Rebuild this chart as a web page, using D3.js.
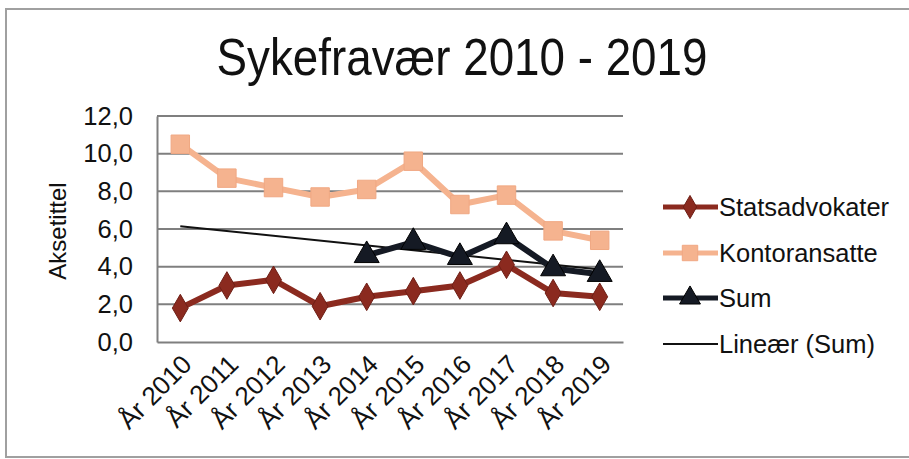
<!DOCTYPE html>
<html>
<head>
<meta charset="utf-8">
<script src="https://d3js.org/d3.v7.min.js"></script>
<style>
  body { margin: 0; background: #fff; }
  svg { display: block; font-family: "Liberation Sans", Arial, sans-serif; }
</style>
</head>
<body>
<div id="chart"></div>
<script>
// data
var years = ["År 2010","År 2011","År 2012","År 2013","År 2014","År 2015","År 2016","År 2017","År 2018","År 2019"];
var statsadvokater = [1.8, 3.0, 3.3, 1.9, 2.4, 2.7, 3.0, 4.1, 2.6, 2.4];
var kontoransatte = [10.5, 8.7, 8.2, 7.7, 8.1, 9.6, 7.3, 7.8, 5.9, 5.4];
var sum = [null, null, null, null, 4.6, 5.3, 4.5, 5.6, 3.9, 3.6];
var trendEnds = [6.15, 3.85];   // Lineær (Sum) at År 2010 and År 2019
var yTicks = [0, 2, 4, 6, 8, 10, 12];

var W = 909, H = 459;
var plotL = 157, plotR = 623, plotT = 116, plotB = 342;

var svg = d3.select("#chart").append("svg").attr("width", W).attr("height", H);

// outer frame
svg.append("rect").attr("x", 6).attr("y", 9).attr("width", 940).attr("height", 448)
  .attr("fill", "none").attr("stroke", "#a0a0a0").attr("stroke-width", 2);

svg.append("text").attr("transform", "translate(462,75) scale(0.88,1)").attr("text-anchor", "middle")
  .style("font-size", "52px").attr("fill", "#111").text("Sykefravær 2010 - 2019");

var x = d3.scaleBand().domain(years).range([plotL, plotR]);
var y = d3.scaleLinear().domain([0, 12]).range([plotB, plotT]);
var cx = function(i) { return x(years[i]) + x.bandwidth() / 2; };

// gridlines
svg.append("g").selectAll("line").data(yTicks.slice(1)).enter().append("line")
  .attr("x1", plotL).attr("x2", plotR)
  .attr("y1", function(d) { return y(d); }).attr("y2", function(d) { return y(d); })
  .attr("stroke", "#7f7f7f").attr("stroke-width", 2);

// y axis
var yAxis = svg.append("g").attr("transform", "translate(" + plotL + ",0)")
  .call(d3.axisLeft(y).tickValues(yTicks).tickSize(0).tickPadding(24)
    .tickFormat(function(d) { return d3.format(".1f")(d).replace(".", ","); }));
yAxis.select(".domain").attr("stroke", "#7f7f7f").attr("stroke-width", 2);
yAxis.selectAll("text").style("font-size", "25.5px").attr("fill", "#111");

// x axis
var xAxis = svg.append("g").attr("transform", "translate(0," + plotB + ")")
  .call(d3.axisBottom(x).tickSize(0).tickPadding(0));
xAxis.select(".domain").attr("stroke", "#7f7f7f").attr("stroke-width", 2);
xAxis.selectAll("text")
  .attr("text-anchor", "end").attr("dy", 0).attr("y", 0)
  .attr("transform", "translate(13,24) rotate(-45)")
  .style("font-size", "26px").attr("fill", "#111");

svg.append("text").attr("transform", "translate(66,231) rotate(-90)")
  .attr("text-anchor", "middle").style("font-size", "24px").attr("fill", "#111").text("Aksetittel");

// trend line
svg.append("line").attr("x1", cx(0)).attr("x2", cx(9))
  .attr("y1", y(trendEnds[0])).attr("y2", y(trendEnds[1]))
  .attr("stroke", "#111").attr("stroke-width", 2);

var series = [
  { name: "Statsadvokater", values: statsadvokater, color: "#8b2a1f", stroke: "#6e1f16", shape: d3.symbolDiamond, size: 220 },
  { name: "Kontoransatte", values: kontoransatte, color: "#f5b38f", stroke: "#f0a883", shape: d3.symbolSquare, size: 340 },
  { name: "Sum", values: sum, color: "#151a24", stroke: "#000", shape: d3.symbolTriangle, size: 270 }
];

var line = d3.line().defined(function(d) { return d != null; })
  .x(function(d, i) { return cx(i); }).y(function(d) { return y(d); });

series.forEach(function(s) {
  svg.append("path").datum(s.values).attr("d", line)
    .attr("fill", "none").attr("stroke", s.color).attr("stroke-width", 6)
    .attr("stroke-linejoin", "round");
  svg.append("g").selectAll("path").data(s.values.map(function(v, i) { return { v: v, i: i }; })
      .filter(function(d) { return d.v != null; }))
    .enter().append("path")
    .attr("d", d3.symbol().type(s.shape).size(s.size))
    .attr("transform", function(d) { return "translate(" + cx(d.i) + "," + y(d.v) + ")"; })
    .attr("fill", s.color).attr("stroke", s.stroke).attr("stroke-width", 1);
});

// legend
var legendY = [207, 253, 298, 344];
var lg = svg.append("g");
series.forEach(function(s, k) {
  var g = lg.append("g").attr("transform", "translate(0," + legendY[k] + ")");
  g.append("line").attr("x1", 663).attr("x2", 718).attr("stroke", s.color).attr("stroke-width", 5);
  g.append("path").attr("d", d3.symbol().type(s.shape).size(s.size * 0.7))
    .attr("transform", "translate(690,0)").attr("fill", s.color).attr("stroke", s.stroke);
  g.append("text").attr("x", 719).attr("y", 9).style("font-size", "25.5px").attr("fill", "#111").text(s.name);
});
var tg = lg.append("g").attr("transform", "translate(0," + legendY[3] + ")");
tg.append("line").attr("x1", 663).attr("x2", 718).attr("stroke", "#111").attr("stroke-width", 2);
tg.append("text").attr("x", 719).attr("y", 9).style("font-size", "25.5px").attr("fill", "#111").text("Lineær (Sum)");
</script>
</body>
</html>
